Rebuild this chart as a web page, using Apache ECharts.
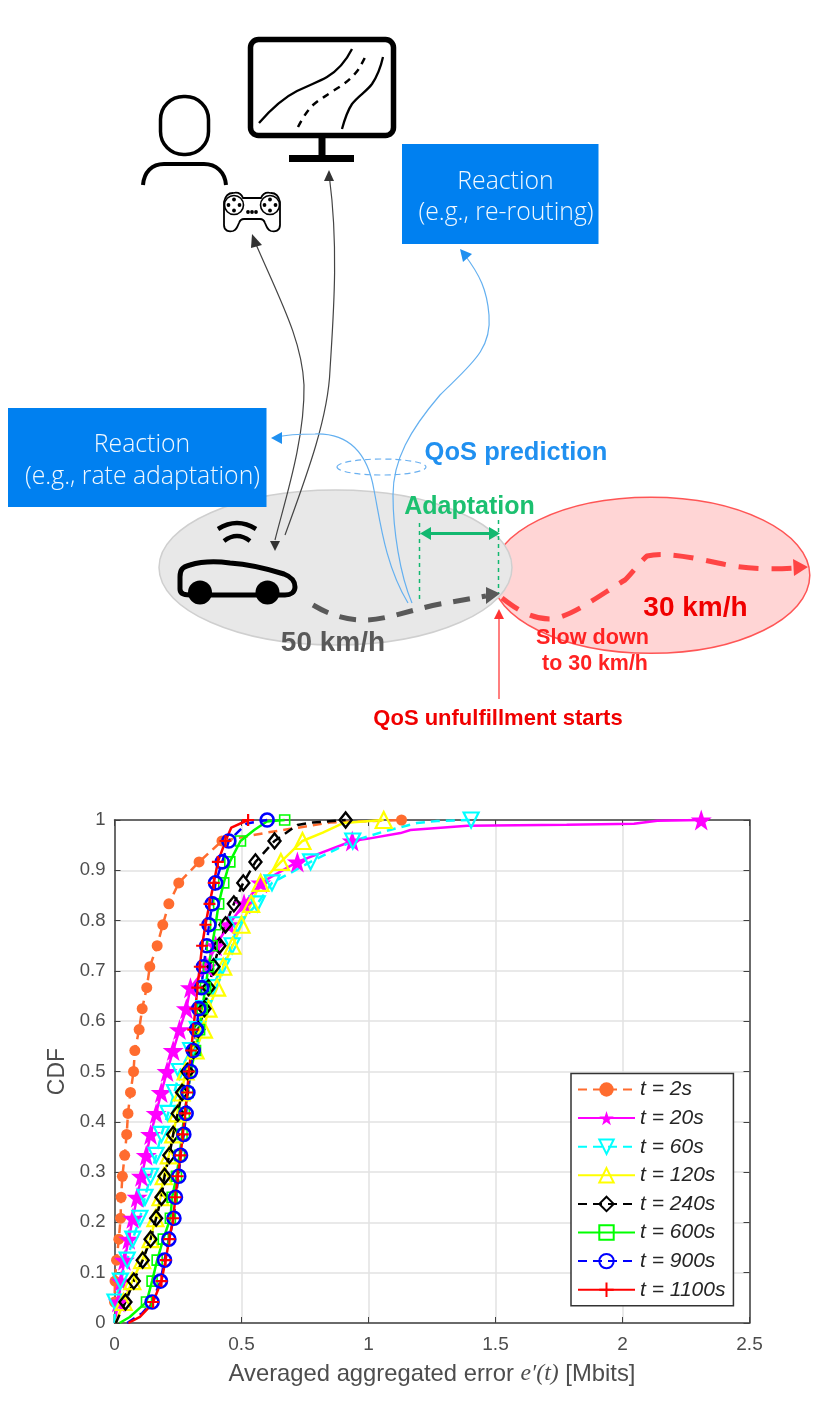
<!DOCTYPE html>
<html>
<head>
<meta charset="utf-8">
<title>QoS prediction and CDF</title>
<script src="https://cdn.jsdelivr.net/npm/echarts@6/dist/echarts.min.js"></script>
<style>
html,body{margin:0;padding:0;background:#fff;}
#main{width:830px;height:1404px;}
</style>
</head>
<body>
<div id="main"></div>
<script>
// cdf levels where the markers sit (k/24)
const cdfLevels=[0.0417,0.0833,0.125,0.1667,0.2083,0.25,0.2917,0.3333,0.375,0.4167,0.4583,0.5,0.5417,0.5833,0.625,0.6667,0.7083,0.75,0.7917,0.8333,0.875,0.9167,0.9583,1];
const xTicks=[0,0.5,1,1.5,2,2.5];
const seriesNames=["t = 2s","t = 20s","t = 60s","t = 120s","t = 240s","t = 600s","t = 900s","t = 1100s"];

// x value of each marker
const t2s=[0,0.002,0.008,0.017,0.024,0.026,0.031,0.04,0.048,0.053,0.063,0.075,0.08,0.097,0.109,0.127,0.139,0.168,0.19,0.214,0.253,0.333,0.423,1.13];
const t20s=[0.015,0.026,0.039,0.056,0.072,0.089,0.106,0.125,0.142,0.164,0.184,0.207,0.231,0.256,0.283,0.299,0.363,0.398,0.45,0.51,0.576,0.72,0.936,2.31];
const t60s=[0.002,0.023,0.05,0.072,0.1,0.12,0.142,0.164,0.185,0.211,0.236,0.256,0.3,0.326,0.352,0.384,0.424,0.463,0.483,0.562,0.62,0.772,0.938,1.404];
const t120s=[0.036,0.07,0.109,0.142,0.161,0.181,0.194,0.214,0.231,0.247,0.264,0.28,0.319,0.352,0.37,0.404,0.428,0.465,0.5,0.538,0.575,0.655,0.74,1.06];
const t240s=[0.043,0.076,0.111,0.142,0.164,0.185,0.197,0.216,0.231,0.249,0.266,0.287,0.311,0.33,0.354,0.37,0.39,0.413,0.437,0.47,0.507,0.555,0.63,0.91];
const t600s=[0.126,0.148,0.168,0.192,0.22,0.227,0.244,0.256,0.266,0.275,0.289,0.299,0.319,0.335,0.345,0.358,0.37,0.384,0.398,0.41,0.43,0.454,0.496,0.67];
const t900s=[0.148,0.181,0.197,0.214,0.234,0.24,0.253,0.26,0.273,0.282,0.289,0.299,0.31,0.323,0.332,0.343,0.35,0.363,0.372,0.385,0.398,0.424,0.45,0.601];
const t1100s=[0.152,0.185,0.201,0.216,0.231,0.24,0.249,0.26,0.269,0.278,0.286,0.293,0.302,0.31,0.319,0.326,0.336,0.345,0.358,0.374,0.391,0.407,0.437,0.526];

// bends of the lines between markers, no marker on these
const t2sBends=[[0,0],[0.6,0.975],[0.85,0.995]];
const t20sBends=[[0,0],[1,0.963],[1.126,0.974],[1.165,0.98],[1.39,0.9887],[1.78,0.9907],[2.045,0.9927],[2.137,0.9986]];
const t60sBends=[[0,0],[1.06,0.977],[1.19,0.994],[1.27,0.998]];
const t120sBends=[[0.005,0],[0.82,0.975],[0.9,0.994]];
const t240sBends=[[0.005,0],[0.72,0.99],[0.78,0.995]];
const t600sBends=[[0.02,0],[0.06,0.012],[0.1,0.03],[0.55,0.98],[0.6,0.997]];
const t900sBends=[[0.05,0],[0.11,0.02],[0.52,0.993]];
const t1100sBends=[[0.055,0],[0.1,0.012],[0.13,0.028],[0.46,0.985]];

function curve(xs,bends){
  let pts=xs.map((x,i)=>({value:[x,cdfLevels[i]]}));
  bends.forEach(b=>pts.push({value:b,symbol:"none"}));
  pts.sort((a,b)=>a.value[1]-b.value[1]||a.value[0]-b.value[0]);
  return pts;
}

const starPath="path://M50 0L61.8 35 98 35 69 57 79.4 91 50 70 20.6 91 31 57 2 35 38.2 35Z";
const plusPath="path://M50 0V100M0 50H100";

function lineSeries(i,xs,bends,color,dash,symbol,size,hollow,bw,rotate){
  return {
    name:seriesNames[i],
    type:"line",
    clip:false,
    showAllSymbol:true,
    symbol:symbol,
    symbolSize:size,
    symbolRotate:rotate||0,
    lineStyle:{color:color,width:2.5,type:dash?[9,6]:"solid"},
    itemStyle:{color:hollow?"rgba(0,0,0,0)":color,borderColor:color,borderWidth:bw},
    emphasis:{disabled:true},
    data:curve(xs,bends)
  };
}

// ---- diagram on top, drawn with graphic elements ----
let shapeCount=0;
function shapeOf(d){
  // the graphic component only knows registered shapes, so each path gets a name
  let name="diagramPath"+(shapeCount++);
  echarts.graphic.registerShape(name,echarts.graphic.extendPath(d,{}));
  return name;
}
function p(d,stroke,lw,fill,dash){
  return {type:shapeOf(d),style:{stroke:stroke,lineWidth:lw,fill:fill||"none",lineDash:dash||null,lineCap:"butt"},silent:true};
}
function tri(d,fill){
  return {type:shapeOf(d),style:{fill:fill,stroke:"none"},silent:true};
}
function txt(s,x,y,font,fill){
  return {type:"text",x:x,y:y,style:{text:s,font:font,fill:fill,textAlign:"center",textVerticalAlign:"middle"},silent:true};
}
function ell(cx,cy,rx,ry,fill,stroke,lw,dash){
  return {type:"ellipse",shape:{cx:cx,cy:cy,rx:rx,ry:ry},style:{fill:fill,stroke:stroke,lineWidth:lw,lineDash:dash||null},silent:true};
}
function dot(cx,cy,r,fill,stroke,lw){
  return {type:"circle",shape:{cx:cx,cy:cy,r:r},style:{fill:fill,stroke:stroke||"none",lineWidth:lw||0},silent:true};
}
function box(x,y,w,h,fill){
  return {type:"rect",shape:{x:x,y:y,width:w,height:h},style:{fill:fill},silent:true};
}

const boxFont='300 24.8px "Open Sans"';
const boldFont=s=>'bold '+s+'px "Liberation Sans"';
const gameDots=[[234,199.5],[228.5,205],[239.5,205],[234,210.5],[270,199.5],[264.5,205],[275.5,205],[270,210.5],[248,212],[252,212],[256,212]];

const diagram=[
  // monitor
  {type:"rect",shape:{x:250.5,y:39.5,width:143,height:96,r:8},style:{fill:"#fff",stroke:"#000",lineWidth:5.5},silent:true},
  box(318.5,137,7,19,"#000"),
  box(289,155,65,7,"#000"),
  p("M259 123C272 108 285 97 297 91C312 84 320 81 327 77C337 71 346 61 352 49","#000",2.3),
  p("M298 127C303 117 308 110 313 105C320 99 326 96 333 91C345 84 352 78 358 70C361 65 364 60 367 53","#000",2.5,null,[7,6]),
  p("M342 129C345 118 348 110 352 104C358 96 367 91 372 84C378 75 381 66 383 57","#000",2.3),
  // person
  {type:"rect",shape:{x:160.5,y:96.5,width:48,height:58,r:23},style:{fill:"#fff",stroke:"#000",lineWidth:3.5},silent:true},
  p("M143 185C144 172 152 164 164 164L204 164C216 164 225 172 226 185","#000",4),
  // gamepad
  p("M233 193C228 193 225 197 224 202L224 225C224 231 229 232 233 231C236 230 237 228 239 223C240 220 241 219 244 219L260 219C263 219 264 220 265 223C267 228 268 230 271 231C275 232 280 231 280 225L280 202C279 197 276 193 271 193C267 192 263 193 261 198L243 198C241 193 237 192 233 193Z","#000",1.8,"#fff"),
  dot(234,205,9.5,"#fff","#000",1.6),
  dot(270,205,9.5,"#fff","#000",1.6),
  // boxes
  ell(650.8,575.3,159,78,"#ffd5d5","#f55",1.5),
  ell(335.5,567.5,176.5,77.5,"#e8e8e8","#cfcfcf",1.5),
  box(402,144,196.5,100,"#0080f0"),
  box(8,408,258.5,99,"#0080f0"),
  txt("Reaction",505.5,182,boxFont,"#f0f8ff"),
  txt("(e.g., re-routing)",506,213,boxFont,"#f0f8ff"),
  txt("Reaction",142,445,boxFont,"#f0f8ff"),
  txt("(e.g., rate adaptation)",142.5,476.5,boxFont,"#f0f8ff"),
  // dashed halo
  ell(381.5,467,44.5,8,"none","#6ab0f0",1.2,[6,4]),
  // grey arrows
  p("M275 540C285 500 305 440 304 385C302 340 280 300 255 242","#444",1.2),
  tri("M252 234L262 245 251 248Z","#333"),
  tri("M275 551L270 541 280 541Z","#333"),
  p("M285 535C305 480 328 420 330 370C333 320 339 250 329.5 178","#444",1.2),
  tri("M329 170L334 181 324 181Z","#333"),
  // blue arrows
  p("M408 603C385 565 380 520 374 490C368 455 350 433 315 434C300 434 285 435 278 437","#64b0f0",1.2),
  tri("M271 438L282 432 282 444Z","#2090f0"),
  p("M412 603C400 575 393 530 393 495C393 460 410 430 440 395C470 365 492 350 489 315C487 290 480 275 464 254","#64b0f0",1.2),
  tri("M460 249L472 254 463 262Z","#2090f0"),
  // green adaptation bracket
  p("M419.5 523V603","#12b870",1.5,null,[4,4]),
  p("M498.5 520V593","#12b870",1.5,null,[4,4]),
  p("M428 533.5H492","#12b870",3),
  tri("M420 533.5L431 527 431 540Z","#12b870"),
  tri("M500 533.5L489 527 489 540Z","#12b870"),
  // car and signal
  p("M218 529Q237 517 256 529","#000",4.5),
  p("M224 541Q237 531 250 541","#000",4.5),
  p("M190 595L285 595C291 595 295 592 295 587C295 581 292 577 284 574C265 568 245 564 230 563C215 561 200 562 190 565C182 567 180 570 180 577L180 589C180 593 184 595 190 595Z","#000",5),
  dot(200,592.5,12,"#000"),
  dot(267.5,592.5,12,"#000"),
  // trajectories
  p("M313 605C330 615 345 620 365 620C385 620 410 610 440 604L486 596","#595959",5,null,[17,12]),
  tri("M500 593.5L486 587 486 604Z","#595959"),
  p("M502 598C515 608 530 619 550 619C570 618 600 595 625 580C632 573 640 562 647 556C665 552 690 557 718 563C740 568 765 570 795 568","#f44",5,null,[20,13]),
  tri("M808 567L793 559 794 576Z","#f44"),
  // red marker
  p("M499 699V616","#f55",1.5),
  tri("M499 609L494 619 504 619Z","#f33"),
  // labels
  txt("QoS prediction",516,452.5,boldFont(25.5),"#2090f0"),
  txt("Adaptation",469.5,507,boldFont(25),"#1cc070"),
  txt("50 km/h",333,643,boldFont(28),"#595959"),
  txt("30 km/h",695.5,608.5,boldFont(28),"#f00000"),
  txt("Slow down",592.5,638,boldFont(21.6),"#f22"),
  txt("to 30 km/h",595,664,boldFont(21.4),"#f22"),
  txt("QoS unfulfillment starts",498,718.5,boldFont(22),"#f00000")
];
gameDots.forEach(d=>diagram.push(dot(d[0],d[1],1.9,"#000")));

// ---- chart ----
const myChart=echarts.init(document.getElementById("main"),null,{renderer:"canvas"});
const tickColor="#4d4d4d";
const gridLine={show:true,lineStyle:{color:"#e2e2e2",width:1.5}};

myChart.setOption({
  animation:false,
  backgroundColor:"#fff",
  textStyle:{fontFamily:"Liberation Sans"},
  grid:{left:114.5,top:820,width:635,height:503,show:false},
  legend:{
    orient:"vertical",
    left:571,
    top:1073.5,
    padding:[5.5,8,5.5,6],
    itemWidth:57,
    itemHeight:18,
    itemGap:7.6,
    backgroundColor:"#fff",
    borderColor:"#333",
    borderWidth:1.5,
    textStyle:{fontSize:21,fontStyle:"italic",color:"#262626"},
    data:seriesNames
  },
  xAxis:[
    {
      type:"value",min:0,max:2.5,interval:0.5,
      axisLine:{show:true,onZero:false,lineStyle:{color:"#404040",width:1.5}},
      axisTick:{show:true,inside:true,length:6,lineStyle:{color:"#404040"}},
      axisLabel:{color:tickColor,fontSize:19,margin:12,formatter:v=>xTicks.includes(v)?String(v):""},
      splitLine:gridLine,
      name:"Averaged aggregated error {i|e′(t)} [Mbits]",
      nameLocation:"middle",
      nameGap:39,
      nameTextStyle:{color:tickColor,fontSize:23.8,rich:{i:{fontFamily:"Liberation Serif",fontStyle:"italic",fontSize:23.8,color:tickColor}}}
    },
    {
      type:"value",min:0,max:2.5,interval:0.5,position:"top",
      axisLine:{show:true,onZero:false,lineStyle:{color:"#404040",width:1.5}},
      axisTick:{show:true,inside:true,length:6,lineStyle:{color:"#404040"}},
      axisLabel:{show:false},
      splitLine:{show:false}
    }
  ],
  yAxis:[
    {
      type:"value",min:0,max:1,interval:0.1,
      axisLine:{show:true,onZero:false,lineStyle:{color:"#404040",width:1.5}},
      axisTick:{show:true,inside:true,length:6,lineStyle:{color:"#404040"}},
      axisLabel:{color:tickColor,fontSize:18.5,margin:9},
      splitLine:gridLine,
      name:"CDF",
      nameLocation:"middle",
      nameGap:43,
      nameTextStyle:{color:tickColor,fontSize:23}
    },
    {
      type:"value",min:0,max:1,interval:0.1,position:"right",
      axisLine:{show:true,onZero:false,lineStyle:{color:"#404040",width:1.5}},
      axisTick:{show:true,inside:true,length:6,lineStyle:{color:"#404040"}},
      axisLabel:{show:false},
      splitLine:{show:false}
    }
  ],
  series:[
    lineSeries(0,t2s,t2sBends,"#ff6c2f",true,"circle",11,false,0),
    lineSeries(1,t20s,t20sBends,"#ff00ff",false,starPath,21,false,0),
    lineSeries(2,t60s,t60sBends,"#00ffff",true,"triangle",15,true,2.2,180),
    lineSeries(3,t120s,t120sBends,"#ffff00",false,"triangle",16,true,2.2),
    lineSeries(4,t240s,t240sBends,"#000000",true,"diamond",[12,15],true,2.4),
    lineSeries(5,t600s,t600sBends,"#00ff00",false,"rect",10,true,1.6),
    lineSeries(6,t900s,t900sBends,"#0000ff",true,"circle",13,true,2.6),
    lineSeries(7,t1100s,t1100sBends,"#ff0000",false,plusPath,12,true,2.2)
  ],
  graphic:{elements:diagram}
});
</script>
</body>
</html>
